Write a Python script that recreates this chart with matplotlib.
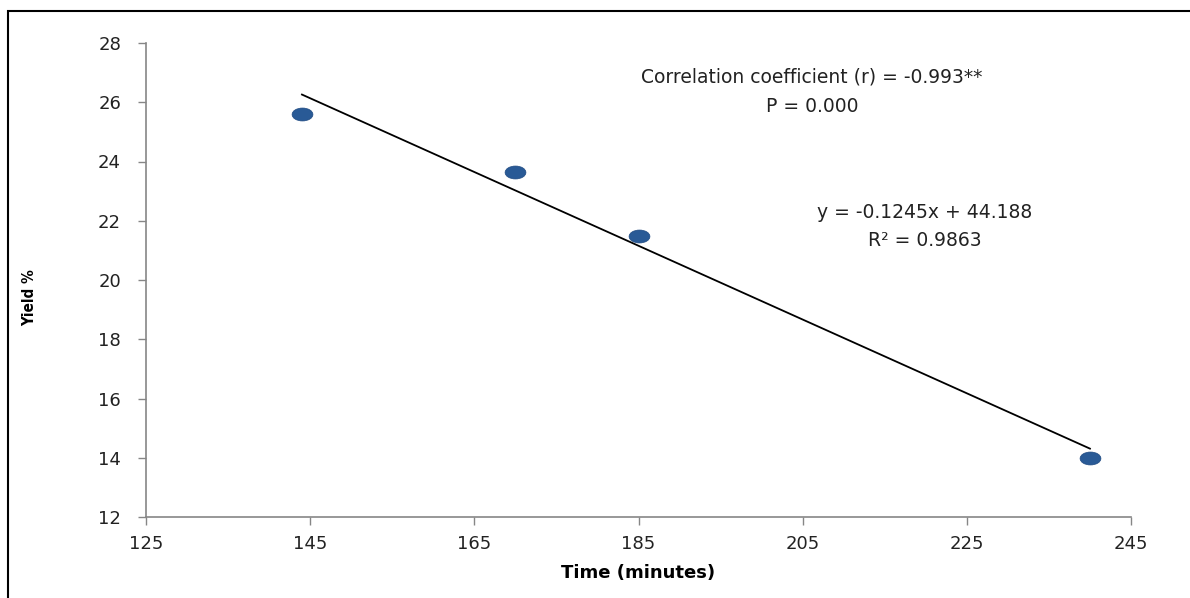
import matplotlib.pyplot as plt
import numpy as np
from matplotlib.path import Path
from matplotlib.patches import Rectangle

# 数据
time_min = [144, 170, 185, 240]
yield_pct = [25.6, 23.65, 21.5, 14.0]
slope, intercept = -0.1245, 44.188
x_ticks = [125, 145, 165, 185, 205, 225, 245]
y_ticks = [12, 14, 16, 18, 20, 22, 24, 26, 28]

plt.rcParams['font.family'] = ['DejaVu Sans']

fig = plt.figure(figsize=(11.9, 5.98), dpi=100)
ax = fig.add_axes([146 / 1190, 1 - 517 / 598, (1131 - 146) / 1190, (517 - 43) / 598])

# 外框
fig.patches.append(Rectangle((8 / 1190, -0.1), 1.2, (598 - 11) / 598 + 0.1,
                             transform=fig.transFigure, fill=False,
                             edgecolor='black', linewidth=1.5))

# 椭圆形标记（原图被横向拉伸）
circ = Path.unit_circle()
ell = Path(circ.vertices * np.array([1.0, 0.62]), circ.codes)

ax.plot(time_min, yield_pct, linestyle='none', marker=ell, markersize=15,
        color='#295A96', markeredgecolor='#1F4A82', markeredgewidth=0.5)

# 趋势线
xt = np.array([time_min[0], time_min[-1]])
ax.plot(xt, slope * xt + intercept, color='black', linewidth=1.3)

ax.set_xlim(125, 245)
ax.set_ylim(12, 28)
ax.set_xticks(x_ticks)
ax.set_yticks(y_ticks)
ax.tick_params(axis='both', direction='out', length=6, width=1,
               color='#868686', labelsize=13, labelcolor='#222222')
ax.tick_params(axis='y', pad=12)
ax.tick_params(axis='x', pad=7)
for side in ['top', 'right']:
    ax.spines[side].set_visible(False)
for side in ['left', 'bottom']:
    ax.spines[side].set_color('#868686')
    ax.spines[side].set_linewidth(1.2)

ax.set_xlabel('Time (minutes)', fontsize=13, fontweight='bold', labelpad=8)
fig.text(30 / 1190, 1 - 298 / 598, 'Yield %', rotation=90, fontsize=11,
         fontweight='bold', fontstretch='condensed', ha='center', va='center')

fig.text(812 / 1190, 1 - 77 / 598, 'Correlation coefficient (r) = -0.993**',
         fontsize=13.5, ha='center', va='center', color='#222222')
fig.text(812 / 1190, 1 - 106 / 598, 'P = 0.000',
         fontsize=13.5, ha='center', va='center', color='#222222')
fig.text(925 / 1190, 1 - 212 / 598, 'y = -0.1245x + 44.188',
         fontsize=13.5, ha='center', va='center', color='#222222')
fig.text(925 / 1190, 1 - 240 / 598, 'R² = 0.9863',
         fontsize=13.5, ha='center', va='center', color='#222222')

plt.savefig('out.png', dpi=100)
